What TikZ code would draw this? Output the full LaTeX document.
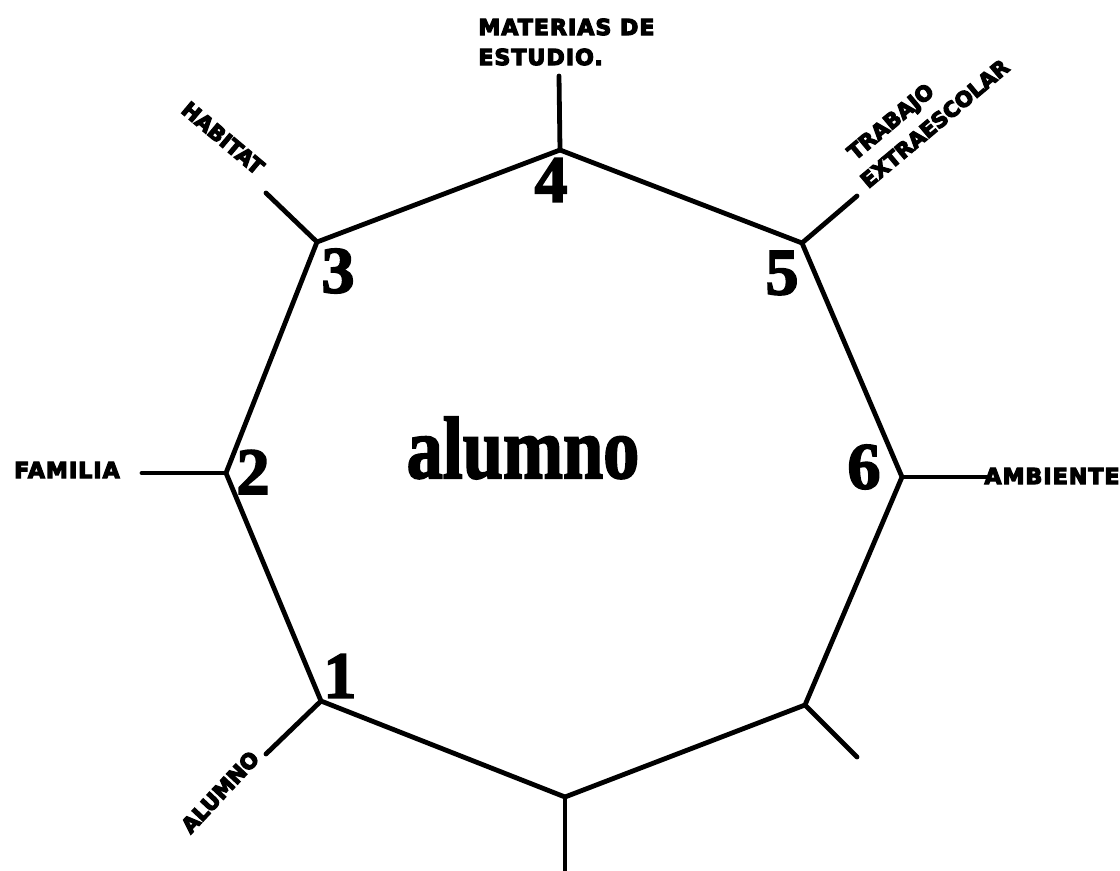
\documentclass[tikz,border=0pt]{standalone}
\usepackage{fontspec}
\newfontfamily\labfont{DejaVu Sans}
\newfontfamily\widelabfont[LetterSpace=5]{DejaVu Sans}
\newfontfamily\numfont{Liberation Serif}
\newcommand\heavy[2]{\special{pdf:literal direct #1 w 2 Tr}#2\special{pdf:literal direct 0 Tr}}
\begin{document}
\begin{tikzpicture}[x=0.5pt,y=-0.5pt,
  edge/.style={line width=2.4pt,line join=round,line cap=round},
  lab/.style={font=\labfont\bfseries\fontsize{10.5}{15}\selectfont,inner sep=0pt},
  widelab/.style={font=\widelabfont\bfseries\fontsize{11}{15}\selectfont,inner sep=0pt},
  num/.style={font=\numfont\bfseries\fontsize{33}{33}\selectfont,inner sep=0pt}]
\useasboundingbox[fill=white] (0,0) rectangle (1120,871);
% vertices
\coordinate (v1) at (321,701);
\coordinate (v2) at (226,473);
\coordinate (v3) at (317,242);
\coordinate (v4) at (560,150);
\coordinate (v5) at (802,243);
\coordinate (v6) at (902,477);
\coordinate (v7) at (805,705);
\coordinate (v8) at (565,797);
% outer ends
\coordinate (o1) at (266,754);
\coordinate (o2) at (142,473);
\coordinate (o3) at (266,193);
\coordinate (o4) at (559,76);
\coordinate (o5) at (857,196);
\coordinate (o6) at (987,477);
\coordinate (o7) at (857,757);
\coordinate (o8) at (565,871);
\draw[edge] (v1) -- (v2) -- (v3) -- (v4) -- (v5) -- (v6) -- (v7) -- (v8) -- cycle;
\foreach \i in {1,...,8} \draw[edge] (v\i) -- (o\i);
% numbers
\node[num] (n1) at (340,676) {\heavy{0.9}{1}};
\node[num] (n2) at (253,472) {\heavy{0.9}{2}};
\node[num] (n3) at (338,271) {\heavy{0.9}{3}};
\node[num] (n4) at (551,180) {\heavy{0.9}{4}};
\node[num] (n5) at (782,273) {\heavy{0.9}{5}};
\node[num] (n6) at (864,467) {\heavy{0.9}{6}};
% center
\node[font=\numfont\bfseries\fontsize{44}{44}\selectfont,anchor=base,inner sep=0pt] (center) at (523,478) {\scalebox{0.82}[1]{\heavy{1}{alumno}}};
% labels
\node[widelab] (familia) at (67,470) {\heavy{0.6}{FAMILIA}};
\node[widelab] (ambiente) at (1052,476) {\heavy{0.6}{AMBIENTE}};
\node[widelab,align=left,anchor=west] (materias) at (478,42) {\heavy{0.6}{MATERIAS DE}\\\heavy{0.6}{ESTUDIO.}};
\node[lab,rotate=-40] (habitat) at (223,138) {\heavy{0.6}{HABITAT}};
\node[lab,rotate=40,align=left] (trabajo) at (925,112) {\hspace{4pt}\heavy{0.6}{TRABAJO}\\\heavy{0.6}{EXTRAESCOLAR}};
\node[lab,rotate=47] (alumnolab) at (220,792) {\heavy{0.6}{ALUMNO}};
\end{tikzpicture}
\end{document}
